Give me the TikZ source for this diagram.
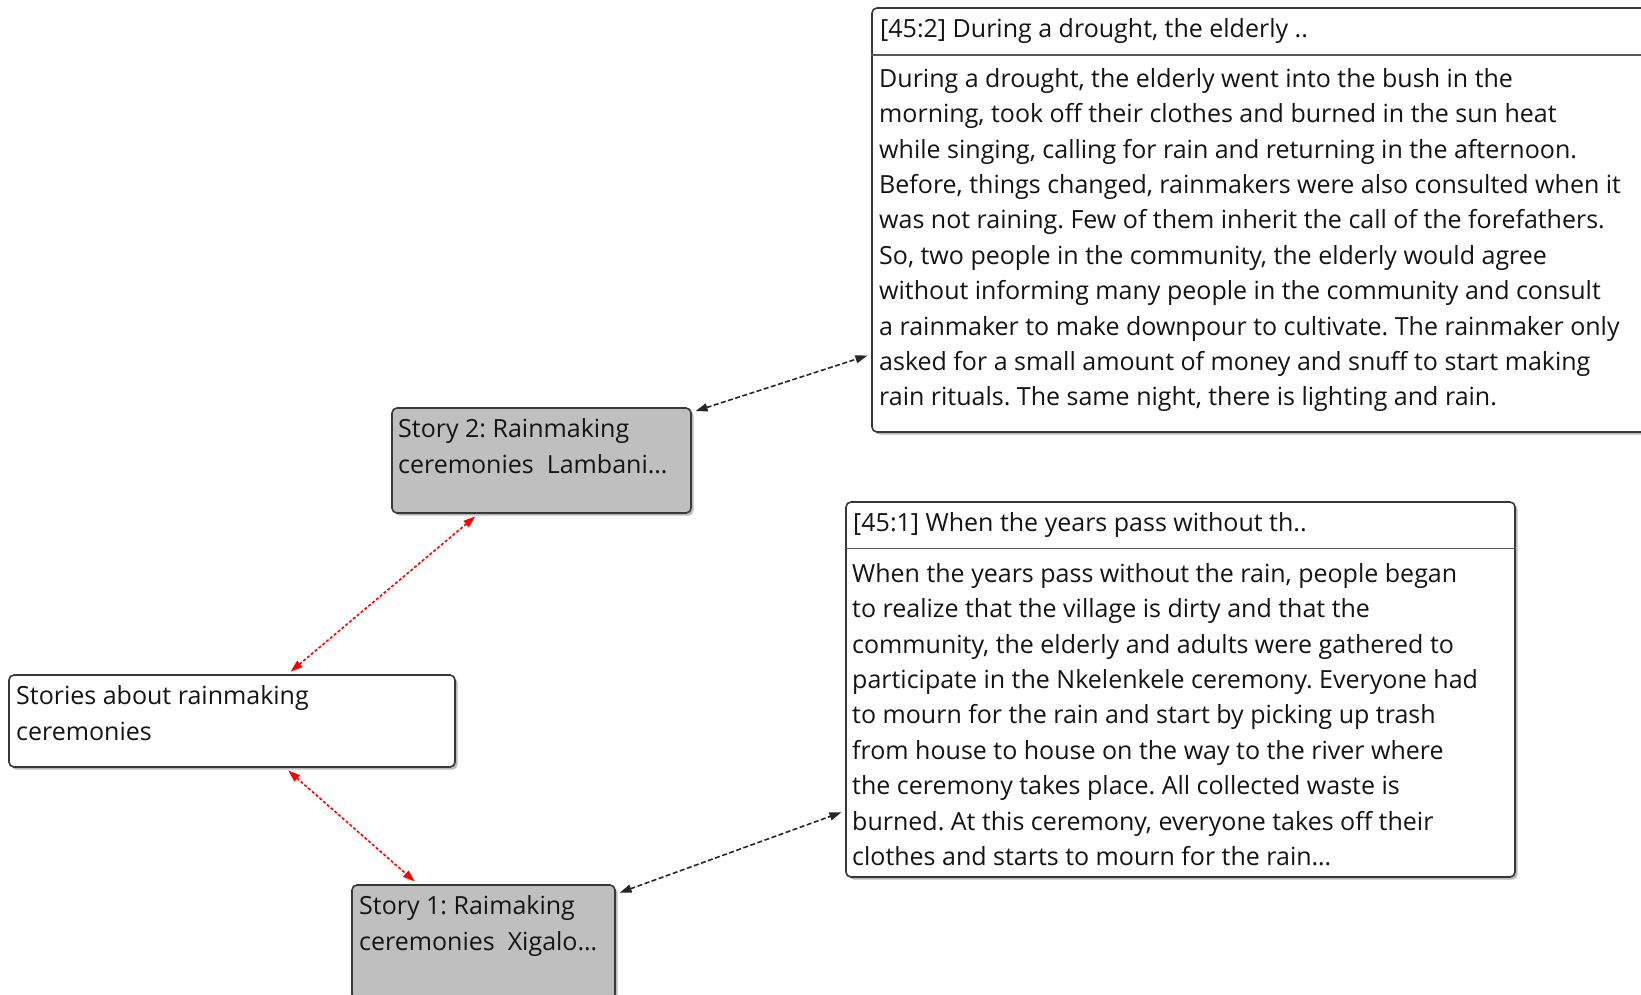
\documentclass[tikz,border=0pt]{standalone}
\usepackage{fontspec}
\setmainfont{Open Sans}
\usetikzlibrary{arrows.meta,shadows,calc}
\frenchspacing

\begin{document}
\begin{tikzpicture}[x=1pt,y=-1pt,
  box/.style={draw=black!78, line width=1.6pt, rounded corners=5pt, inner sep=0pt,
    drop shadow={shadow xshift=2.5pt, shadow yshift=-2.5pt, opacity=0.55}},
  storybox/.style={box, fill=black!25},
  notebox/.style={box, fill=white},
  boxtext/.style={anchor=north west, inner sep=0pt, align=left, text=black!92,
    font=\fontsize{25}{35.4}\selectfont},
  rule/.style={draw=black!65, line width=1.5pt},
  link/.style={line width=1.6pt, {Triangle[length=12pt,width=8pt]}-{Triangle[length=12pt,width=8pt]},
    shorten >=4pt, shorten <=4pt},
  quotelink/.style={link, black!85, dash pattern=on 5pt off 2.5pt},
  codelink/.style={link, red, dash pattern=on 3pt off 2pt},
]
\useasboundingbox (0,0) rectangle (1641,994);
\clip (0,0) rectangle (1641,994);

% boxes
\node[notebox, minimum width=840pt, minimum height=424pt] (q2) at (1292,220) {};
\node[notebox, minimum width=669pt, minimum height=375pt] (q1) at (1180.5,689.5) {};
\node[storybox, minimum width=299pt, minimum height=105pt] (s2) at (541.5,460.5) {};
\node[notebox, minimum width=446pt, minimum height=92pt] (root) at (232,721) {};
\node[storybox, minimum width=263pt, minimum height=114pt] (s1) at (483.5,942) {};

% header rules of the quotation boxes
\draw[rule] ($(q2.north west)+(0,48)$) -- ($(q2.north east)+(0,48)$);
\draw[rule] ($(q1.north west)+(0,47.5)$) -- ($(q1.north east)+(0,47.5)$);

% texts (the strut fixes the first baseline 24pt below the anchor)
\node[boxtext] (s2t) at (398,413.5) {\rule{0pt}{24pt}Story 2: Rainmaking\\ceremonies\ \ Lambani…};
\node[boxtext] (roott) at (16,680.5) {\rule{0pt}{24pt}Stories about rainmaking\\ceremonies};
\node[boxtext] (s1t) at (359,890.5) {\rule{0pt}{24pt}Story 1: Raimaking\\ceremonies\ \ Xigalo…};

\node[boxtext] (q2h) at (880,13.5) {\rule{0pt}{24pt}[45:2] During a drought, the elderly ..};
\node[boxtext] (q2t) at (879,63) {\rule{0pt}{24pt}During a drought, the elderly went into the bush in the\\
morning, took off their clothes and burned in the sun heat\\
while singing, calling for rain and returning in the afternoon.\\
Before, things changed, rainmakers were also consulted when it\\
was not raining. Few of them inherit the call of the forefathers.\\
So, two people in the community, the elderly would agree\\
without informing many people in the community and consult\\
a rainmaker to make downpour to cultivate. The rainmaker only\\
asked for a small amount of money and snuff to start making\\
rain rituals. The same night, there is lighting and rain.};

\node[boxtext] (q1h) at (853,507.5) {\rule{0pt}{24pt}[45:1] When the years pass without th..};
\node[boxtext] (q1t) at (852,558) {\rule{0pt}{24pt}When the years pass without the rain, people began\\
to realize that the village is dirty and that the\\
community, the elderly and adults were gathered to\\
participate in the Nkelenkele ceremony. Everyone had\\
to mourn for the rain and start by picking up trash\\
from house to house on the way to the river where\\
the ceremony takes place. All collected waste is\\
burned. At this ceremony, everyone takes off their\\
clothes and starts to mourn for the rain…};

% connectors
\draw[quotelink] (s2) -- (q2);
\draw[quotelink] (s1) -- (q1);
\draw[codelink] (root) -- (s2);
\draw[codelink] (root) -- (s1);
\end{tikzpicture}
\end{document}
